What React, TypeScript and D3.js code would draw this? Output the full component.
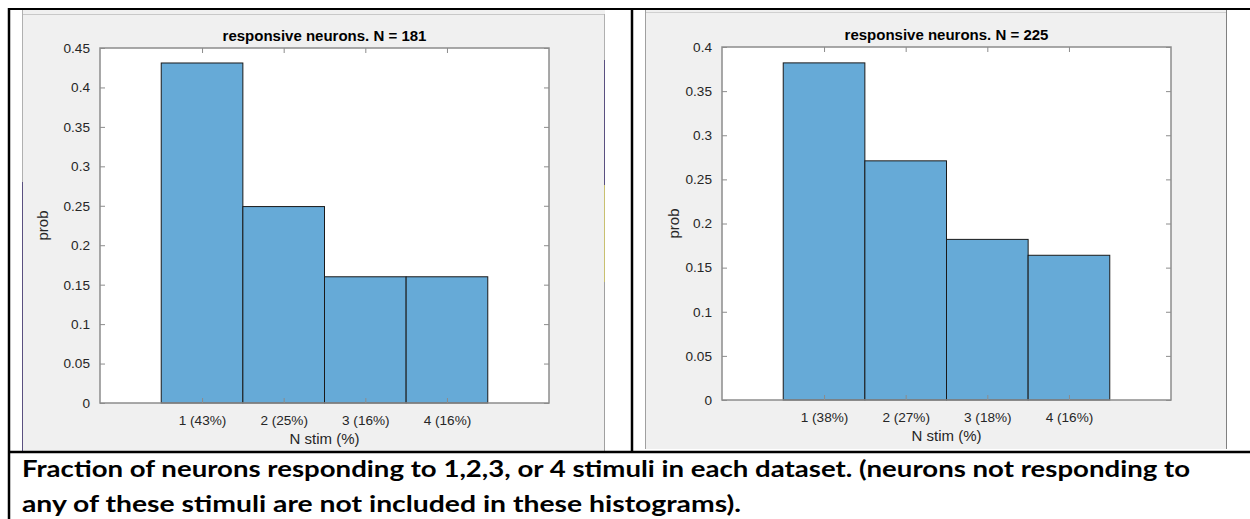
import { useRef, useEffect } from 'react';
import { select, scaleLinear, axisLeft, axisRight, axisBottom, axisTop } from 'd3';

// bins: number of stimuli a neuron responds to
const categories = [1, 2, 3, 4];

// dataset 1 (N = 181)
const leftN = 181;
const leftProb = [0.431, 0.249, 0.16, 0.16];
const leftTickLabels = ['1 (43%)', '2 (25%)', '3 (16%)', '4 (16%)'];
const leftYTicks = [0, 0.05, 0.1, 0.15, 0.2, 0.25, 0.3, 0.35, 0.4, 0.45];

// dataset 2 (N = 225)
const rightN = 225;
const rightProb = [0.382, 0.271, 0.182, 0.164];
const rightTickLabels = ['1 (38%)', '2 (27%)', '3 (18%)', '4 (16%)'];
const rightYTicks = [0, 0.05, 0.1, 0.15, 0.2, 0.25, 0.3, 0.35, 0.4];

const captionLines = [
  'Fraction of neurons responding to 1,2,3, or 4 stimuli in each dataset. (neurons not responding to',
  'any of these stimuli are not included in these histograms).',
];

const AXIS_FONT = '"Liberation Sans", Arial, Helvetica, sans-serif';
const BAR_FILL = '#66aad7';
const BOX = '#8c8c8c';

const Histogram = ({ x0, x1, yTop, yBot, yTicks, values, tickLabels, n, labelX }) => {
  const gRef = useRef();

  const xScale = scaleLinear().domain([-0.25, 5.25]).range([x0, x1]);
  const yScale = scaleLinear().domain([0, yTicks[yTicks.length - 1]]).range([yBot, yTop]);

  useEffect(() => {
    const g = select(gRef.current);

    const styleAxis = (sel) => {
      sel.select('.domain').remove();
      sel.selectAll('.tick line').attr('stroke', BOX);
      sel
        .selectAll('.tick text')
        .attr('fill', '#262626')
        .style('font-family', AXIS_FONT)
        .style('font-size', '13.6px');
    };

    g.select('.y-axis')
      .attr('transform', `translate(${x0},0)`)
      .call(axisLeft(yScale).tickValues(yTicks).tickSizeInner(-5).tickSizeOuter(0).tickPadding(10).tickFormat((d) => String(d)))
      .call(styleAxis);

    g.select('.y-axis-r')
      .attr('transform', `translate(${x1},0)`)
      .call(axisRight(yScale).tickValues(yTicks).tickSizeInner(-5).tickSizeOuter(0).tickFormat(() => ''))
      .call(styleAxis);

    g.select('.x-axis')
      .attr('transform', `translate(0,${yBot})`)
      .call(
        axisBottom(xScale)
          .tickValues(categories)
          .tickSizeInner(-5)
          .tickSizeOuter(0)
          .tickPadding(12)
          .tickFormat((d, i) => tickLabels[i])
      )
      .call(styleAxis);

    g.select('.x-axis-t')
      .attr('transform', `translate(0,${yTop})`)
      .call(axisTop(xScale).tickValues(categories).tickSizeInner(-5).tickSizeOuter(0).tickFormat(() => ''))
      .call(styleAxis);
  }, []);

  return (
    <g ref={gRef}>
      <rect x={x0} y={yTop} width={x1 - x0} height={yBot - yTop} fill='#ffffff' />
      {values.map((v, i) => (
        <rect
          key={i}
          x={xScale(categories[i] - 0.5)}
          y={yScale(v)}
          width={xScale(categories[i] + 0.5) - xScale(categories[i] - 0.5)}
          height={yBot - yScale(v)}
          fill={BAR_FILL}
          stroke='#1a1a1a'
          strokeWidth={1}
        />
      ))}
      <g className='y-axis' />
      <g className='y-axis-r' />
      <g className='x-axis' />
      <g className='x-axis-t' />
      <rect x={x0} y={yTop} width={x1 - x0} height={yBot - yTop} fill='none' stroke={BOX} strokeWidth={1.5} />
      <text
        x={(x0 + x1) / 2}
        y={yTop - 7}
        textAnchor='middle'
        fontFamily={AXIS_FONT}
        fontSize={15}
        fontWeight='bold'
        fill='#000'
      >
        {`responsive neurons. N = ${n}`}
      </text>
      <text
        x={(x0 + x1) / 2}
        y={yBot + 41}
        textAnchor='middle'
        fontFamily={AXIS_FONT}
        fontSize={15}
        fill='#262626'
      >
        N stim (%)
      </text>
      <text
        transform={`translate(${labelX},${(yTop + yBot) / 2}) rotate(-90)`}
        textAnchor='middle'
        fontFamily={AXIS_FONT}
        fontSize={15}
        fill='#262626'
      >
        prob
      </text>
    </g>
  );
};

export default function App() {
  return (
    <svg
      width={1250}
      height={519}
      style={{ position: 'absolute', left: 0, top: 0, background: '#ffffff' }}
    >
      {/* figure backgrounds */}
      <rect x={22} y={10} width={583} height={441} fill='#f0f0f0' />
      <rect x={645} y={10} width={582} height={439} fill='#f0f0f0' />
      <line x1={22} y1={14.5} x2={605} y2={14.5} stroke='#c8c8c8' />
      <line x1={645} y1={12.5} x2={1227} y2={12.5} stroke='#d0d0d0' />
      <line x1={22.5} y1={10} x2={22.5} y2={182} stroke='#b0b0b0' />
      <line x1={22.5} y1={182} x2={22.5} y2={451} stroke='#5a5080' />
      <line x1={604.5} y1={14} x2={604.5} y2={60} stroke='#b0b0b0' />
      <line x1={604.5} y1={60} x2={604.5} y2={185} stroke='#5a5080' />
      <line x1={604.5} y1={185} x2={604.5} y2={282} stroke='#c8c070' />
      <line x1={604.5} y1={282} x2={604.5} y2={451} stroke='#a0a0a0' />
      <line x1={645.5} y1={10} x2={645.5} y2={449} stroke='#a0a0a0' />
      <line x1={1226.5} y1={10} x2={1226.5} y2={449} stroke='#808080' />

      <Histogram
        x0={100}
        x1={549}
        yTop={48}
        yBot={403}
        yTicks={leftYTicks}
        values={leftProb}
        tickLabels={leftTickLabels}
        n={leftN}
        labelX={48}
      />
      <Histogram
        x0={722}
        x1={1171}
        yTop={47}
        yBot={400}
        yTicks={rightYTicks}
        values={rightProb}
        tickLabels={rightTickLabels}
        n={rightN}
        labelX={679}
      />

      {/* table borders */}
      <line x1={8} y1={9} x2={1250} y2={9} stroke='#000' strokeWidth={2} />
      <line x1={9} y1={8} x2={9} y2={519} stroke='#000' strokeWidth={2.5} />
      <line x1={632} y1={8} x2={632} y2={452} stroke='#000' strokeWidth={2.5} />
      <line x1={8} y1={452} x2={1250} y2={452} stroke='#000' strokeWidth={2.5} />

      {captionLines.map((line, i) => (
        <text
          key={i}
          x={22}
          y={477 + i * 35}
          fontFamily='Lato, "Open Sans", sans-serif'
          fontWeight='bold'
          fontSize={23}
          fill='#000'
          textLength={i === 0 ? 1168 : 719}
          lengthAdjust='spacingAndGlyphs'
        >
          {line}
        </text>
      ))}
    </svg>
  );
}
